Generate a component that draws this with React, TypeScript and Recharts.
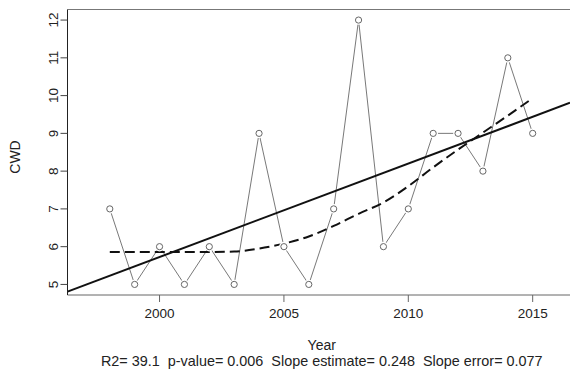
import React from 'react';
import { ComposedChart, Line, XAxis, YAxis, ReferenceLine, Label } from 'recharts';

const years = [1998, 1999, 2000, 2001, 2002, 2003, 2004, 2005, 2006, 2007, 2008, 2009, 2010, 2011, 2012, 2013, 2014, 2015];
const cwd = [7, 5, 6, 5, 6, 5, 9, 6, 5, 7, 12, 6, 7, 9, 9, 8, 11, 9];
const loess = [5.86, 5.86, 5.86, 5.86, 5.86, 5.87, 5.95, 6.08, 6.27, 6.55, 6.87, 7.17, 7.6, 8.1, 8.57, 9.02, 9.47, 9.93];
const trendYears = [1996.3, 2016.5];
const trendValues = [4.81, 9.81];
const xTicks = [2000, 2005, 2010, 2015];
const yTicks = [5, 6, 7, 8, 9, 10, 11, 12];
const xDomain = [1996.3, 2016.5];
const yDomain = [4.72, 12.28];
const statsText = 'R2= 39.1  p-value= 0.006  Slope estimate= 0.248  Slope error= 0.077';

const seriesData = years.map((y, i) => ({ year: y, cwd: cwd[i] }));
const loessData = years.map((y, i) => ({ year: y, loess: loess[i] }));
const trendData = trendYears.map((y, i) => ({ year: y, trend: trendValues[i] }));

const FONT = '"Liberation Sans", Arial, sans-serif';

const Dot = (props: any) => {
  const { cx, cy, index } = props;
  return (
    <g key={`d${index}`}>
      <circle cx={cx} cy={cy} r={4.8} fill="#fff" stroke="none" />
      <circle cx={cx} cy={cy} r={3.1} fill="none" stroke="#666" strokeWidth={1} />
    </g>
  );
};

const YTick = (props: any) => {
  const { y, payload } = props;
  const x = 58;
  return (
    <text x={x} y={y} transform={`rotate(-90, ${x}, ${y})`} textAnchor="middle" fontSize={13.5} fontFamily={FONT} fill="#222">
      {payload.value}
    </text>
  );
};

export default function App() {
  return (
    <div style={{ position: 'absolute', left: 0, top: 0, width: 570, height: 372, background: '#fff' }}>
      <ComposedChart width={570} height={372} margin={{ top: 9.5, right: 0, bottom: 0, left: 0 }}>
        <XAxis
          dataKey="year"
          type="number"
          domain={xDomain}
          ticks={xTicks}
          allowDataOverflow
          height={77}
          tickSize={7}
          tickMargin={6}
          axisLine={{ stroke: '#666', strokeWidth: 1 }}
          tickLine={{ stroke: '#666' }}
          tick={{ fontSize: 13.5, fontFamily: FONT, fill: '#222' }}
        >
          <Label
            content={(p: any) => {
              const vb = p.viewBox;
              return (
                <g>
                  <text x={vb.x + vb.width / 2 + 3} y={vb.y + 55} textAnchor="middle" fontSize={14} fontFamily={FONT} fill="#222">Year</text>
                  <text x={vb.x + vb.width / 2 + 3} y={vb.y + 70.5} textAnchor="middle" fontSize={14.4} fontFamily={FONT} fill="#222" style={{ whiteSpace: 'pre' }} xmlSpace="preserve">{statsText}</text>
                </g>
              );
            }}
          />
        </XAxis>
        <YAxis
          type="number"
          domain={yDomain}
          ticks={yTicks}
          allowDataOverflow
          width={67.5}
          tickSize={7}
          tickMargin={2}
          axisLine={{ stroke: '#222', strokeWidth: 1 }}
          tickLine={{ stroke: '#444' }}
          tick={<YTick />}
        >
          <Label
            content={() => (
              <text x={20} y={157} transform="rotate(-90, 20, 157)" textAnchor="middle" fontSize={14} fontFamily={FONT} fill="#222">CWD</text>
            )}
          />
        </YAxis>
        <ReferenceLine y={yDomain[1]} stroke="#777" strokeWidth={1} />
        <Line data={seriesData} dataKey="cwd" type="linear" stroke="#555" strokeWidth={0.8} dot={<Dot />} isAnimationActive={false} />
        <Line data={loessData} dataKey="loess" type="monotone" stroke="#111" strokeWidth={2} strokeDasharray="10 5" dot={false} isAnimationActive={false} />
        <Line data={trendData} dataKey="trend" type="linear" stroke="#111" strokeWidth={2} dot={false} isAnimationActive={false} />
      </ComposedChart>
    </div>
  );
}
